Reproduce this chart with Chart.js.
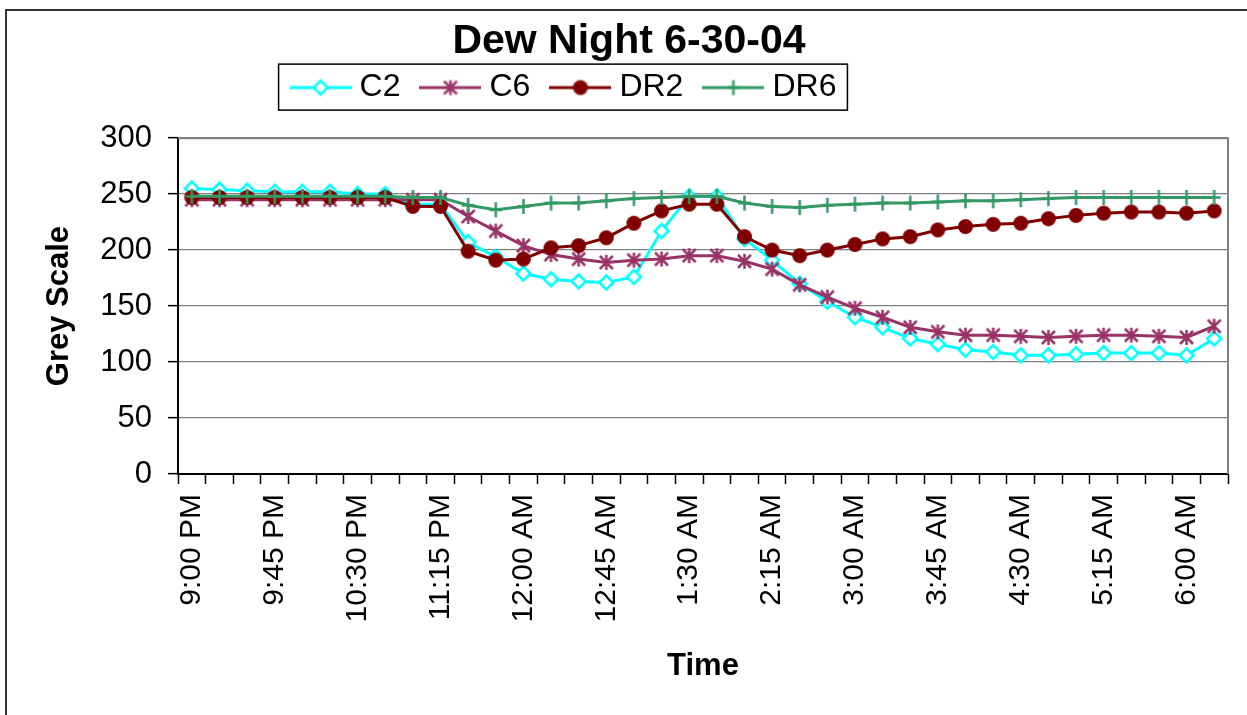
<!DOCTYPE html>
<html>
<head>
<meta charset="utf-8">
<title>Dew Night 6-30-04</title>
<script src="https://cdn.jsdelivr.net/npm/chart.js@4.4.1/dist/chart.umd.min.js"></script>
<style>
  html, body { margin: 0; padding: 0; background: #fff; }
  #wrap { width: 1247px; height: 715px; }
</style>
</head>
<body>
<div id="wrap"><canvas id="chart" width="1247" height="715"></canvas></div>
<script>
// readings every 15 minutes, 9:00 PM to 6:15 AM
const times = ['9:00 PM', '9:15 PM', '9:30 PM', '9:45 PM', '10:00 PM', '10:15 PM', '10:30 PM', '10:45 PM',
  '11:00 PM', '11:15 PM', '11:30 PM', '11:45 PM', '12:00 AM', '12:15 AM', '12:30 AM', '12:45 AM',
  '1:00 AM', '1:15 AM', '1:30 AM', '1:45 AM', '2:00 AM', '2:15 AM', '2:30 AM', '2:45 AM',
  '3:00 AM', '3:15 AM', '3:30 AM', '3:45 AM', '4:00 AM', '4:15 AM', '4:30 AM', '4:45 AM',
  '5:00 AM', '5:15 AM', '5:30 AM', '5:45 AM', '6:00 AM', '6:15 AM'];

const c2 = [255, 254, 253, 252, 252, 252, 250, 250, 241, 241, 207, 194, 179, 174, 172, 171, 176, 217, 248,
  248, 210, 191, 170, 154, 140, 131, 121, 116, 111, 109, 106, 106, 107, 108, 108, 108, 106, 121];
const c6 = [245, 245, 245, 245, 245, 245, 245, 245, 245, 245, 230, 217, 204, 196, 192, 189, 191, 192, 195,
  195, 190, 183, 169, 158, 148, 140, 131, 127, 124, 124, 123, 122, 123, 124, 124, 123, 122, 132];
const dr2 = [247, 247, 247, 247, 247, 247, 247, 247, 239, 239, 199, 191, 192, 202, 204, 211, 224, 235, 241,
  241, 212, 200, 195, 200, 205, 210, 212, 218, 221, 223, 224, 228, 231, 233, 234, 234, 233, 235];
const dr6 = [248, 248, 248, 248, 248, 248, 248, 248, 247, 247, 240, 236, 239, 242, 242, 244, 246, 247, 248,
  248, 242, 239, 238, 240, 241, 242, 242, 243, 244, 244, 245, 246, 247, 247, 247, 247, 247, 247];

const yTicks = [0, 50, 100, 150, 200, 250, 300];

const FONT = "'Liberation Sans', Arial, Helvetica, sans-serif";
Chart.defaults.font.family = FONT;
Chart.defaults.color = '#000';

function marker(kind, color) {
  const c = document.createElement('canvas');
  c.width = 19; c.height = 19;
  const g = c.getContext('2d');
  const m = 9.5;
  g.strokeStyle = color;
  g.fillStyle = color;
  g.lineWidth = 2.5;
  g.beginPath();
  if (kind === 'diamond') {
    g.moveTo(m, m - 7); g.lineTo(m + 7, m); g.lineTo(m, m + 7); g.lineTo(m - 7, m); g.closePath();
    g.fillStyle = '#fff';
    g.fill(); g.stroke();
  } else if (kind === 'star') {
    g.moveTo(m, m - 7.5); g.lineTo(m, m + 7.5);
    g.moveTo(m - 6.5, m - 6.5); g.lineTo(m + 6.5, m + 6.5);
    g.moveTo(m + 6.5, m - 6.5); g.lineTo(m - 6.5, m + 6.5);
    g.stroke();
  } else if (kind === 'circle') {
    g.arc(m, m, 7.5, 0, Math.PI * 2);
    g.fill();
  } else {
    g.moveTo(m, m - 7.5); g.lineTo(m, m + 7.5);
    g.moveTo(m - 6.5, m); g.lineTo(m + 6.5, m);
    g.stroke();
  }
  return c;
}

// legend sample: short line with the marker in the middle
function legendIcon(kind, color) {
  const c = document.createElement('canvas');
  c.width = 62; c.height = 20;
  const g = c.getContext('2d');
  g.strokeStyle = color;
  g.lineWidth = 3;
  g.beginPath(); g.moveTo(0, 10); g.lineTo(62, 10); g.stroke();
  g.drawImage(marker(kind, color), 31 - 9.5, 10 - 9.5);
  return c;
}

const series = [
  { label: 'C2', data: c2, color: '#00FFFF', kind: 'diamond' },
  { label: 'C6', data: c6, color: '#993366', kind: 'star' },
  { label: 'DR2', data: dr2, color: '#800000', kind: 'circle' },
  { label: 'DR6', data: dr6, color: '#339966', kind: 'plus' }
];
const icons = series.map(s => legendIcon(s.kind, s.color));

const frame = {
  id: 'frame',
  afterLayout(chart) {
    // legend sits left of centre and the title a bit right of it in the original
    chart.legend.left -= 51;
    chart.legend.right -= 51;
    chart.titleBlock.left += 11;
    chart.titleBlock.right += 11;
  },
  beforeDraw(chart) {
    const ctx = chart.ctx;
    ctx.save();
    ctx.fillStyle = '#fff';
    ctx.fillRect(0, 0, chart.width, chart.height);
    ctx.strokeStyle = '#333';
    ctx.lineWidth = 2;
    ctx.strokeRect(6, 10, chart.width + 40, chart.height + 40);
    ctx.restore();
  },
  beforeDatasetsDraw(chart) {
    const a = chart.chartArea, ctx = chart.ctx;
    ctx.save();
    ctx.strokeStyle = '#808080';
    ctx.lineWidth = 2;
    ctx.beginPath();
    ctx.moveTo(a.left, a.top); ctx.lineTo(a.right, a.top); ctx.lineTo(a.right, a.bottom);
    ctx.stroke();
    ctx.restore();
  },
  afterDraw(chart) {
    const hb = chart.legend.legendHitBoxes;
    if (!hb || !hb.length) return;
    const last = hb[hb.length - 1];
    const ctx = chart.ctx;
    ctx.save();
    ctx.strokeStyle = '#000';
    ctx.lineWidth = 1.5;
    const l = hb[0].left - 19, r = last.left + last.width + 11;
    const t = hb[0].top - 7.5, b = hb[0].top + hb[0].height + 6.5;
    ctx.strokeRect(l, t, r - l, b - t);
    ctx.restore();
  }
};

new Chart(document.getElementById('chart'), {
  type: 'line',
  data: {
    labels: times,
    datasets: series.map((s, i) => ({
      label: s.label,
      data: s.data,
      borderColor: s.color,
      backgroundColor: s.color,
      borderWidth: 3,
      tension: 0,
      pointStyle: marker(s.kind, s.color),
      pointRadius: 8,
      order: series.length - i
    }))
  },
  options: {
    responsive: false,
    animation: false,
    layout: { padding: { top: 0, left: 8, right: 19, bottom: 0 } },
    plugins: {
      tooltip: { enabled: false },
      title: {
        display: true,
        text: 'Dew Night 6-30-04',
        font: { size: 41, weight: 'bold', lineHeight: 0.125 },
        padding: { top: 39.5, bottom: 0 }
      },
      subtitle: {
        display: true,
        text: '',
        weight: 500,
        font: { size: 1, lineHeight: 1 },
        padding: { top: 23.5, bottom: 0 }
      },
      legend: {
        position: 'top',
        labels: {
          usePointStyle: true,
          pointStyleWidth: 46,
          padding: 27,
          font: { size: 32 },
          color: '#000',
          generateLabels: chart => chart.data.datasets.map((ds, i) => ({
            text: ds.label,
            pointStyle: icons[i],
            fillStyle: ds.borderColor,
            strokeStyle: ds.borderColor,
            lineWidth: 0,
            hidden: false,
            datasetIndex: i
          }))
        }
      }
    },
    scales: {
      x: {
        type: 'category',
        offset: true,
        grid: { offset: true, drawOnChartArea: false, drawTicks: true, tickLength: 10, tickColor: '#000', tickWidth: 1.5 },
        border: { color: '#000', width: 2 },
        ticks: {
          autoSkip: false,
          minRotation: 90,
          maxRotation: 90,
          padding: 10,
          font: { size: 30 },
          color: '#000',
          callback: function (val, idx) { return idx % 3 === 0 ? this.getLabelForValue(val) : ''; }
        },
        title: {
          display: true,
          text: 'Time',
          font: { size: 31, weight: 'bold' },
          padding: { top: 0, bottom: 30 }
        },
        afterFit: s => { s.height = 241; s.paddingLeft = 0; s.paddingRight = 0; }
      },
      y: {
        min: yTicks[0],
        max: yTicks[yTicks.length - 1],
        ticks: { stepSize: yTicks[1] - yTicks[0], padding: 16, font: { size: 31 }, color: '#000' },
        grid: { color: '#808080', lineWidth: 1.3, tickLength: 10, tickColor: '#000', tickWidth: 1.5 },
        border: { color: '#000', width: 2 },
        title: {
          display: true,
          text: 'Grey Scale',
          font: { size: 31, weight: 'bold' },
          padding: { top: 33, bottom: 0 }
        },
        afterFit: s => { s.width = 170; }
      }
    }
  },
  plugins: [frame]
});
</script>
</body>
</html>
